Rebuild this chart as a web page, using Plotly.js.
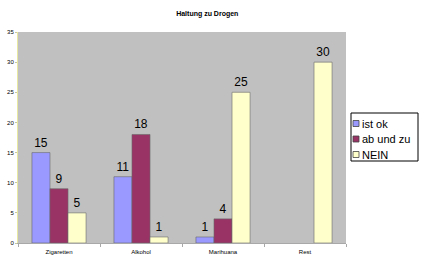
<!DOCTYPE html>
<html><head><meta charset="utf-8">
<script src="https://cdn.plot.ly/plotly-3.0.1.min.js"></script>
<style>html,body{margin:0;padding:0;background:#fff}#c{width:423px;height:263px}</style>
</head><body><div id="c"></div>
<script>
const categories = ["Zigaretten", "Alkohol", "Marihuana", "Rest"];
const seriesNames = ["ist ok", "ab und zu", "NEIN"];
const istOk = [15, 11, 1, null];
const abUndZu = [9, 18, 4, null];
const nein = [5, 1, 25, 30];
const colors = ["#9999ff", "#993366", "#ffffcc"];
const yTicks = [0, 5, 10, 15, 20, 25, 30, 35];

const W = 423, H = 263;
const M = {l: 18, r: 77, t: 32, b: 20};

const values = [istOk, abUndZu, nein];
const traces = values.map((v, i) => ({
  type: "bar",
  name: seriesNames[i],
  x: categories,
  y: v,
  text: v.map(d => d == null ? "" : String(d)),
  textposition: "outside",
  cliponaxis: false,
  textfont: {family: "Liberation Sans, Arial, sans-serif", size: 12, color: "#000"},
  marker: {color: colors[i], line: {color: "#6a6a6a", width: 0.6}},
  showlegend: false
}));

// custom legend box (pixel positions converted to paper coords)
const pw = W - M.l - M.r, ph = H - M.t - M.b;
const px = x => (x - M.l) / pw;
const py = y => (H - M.b - y) / ph;
const shapes = [{
  type: "rect", xref: "paper", yref: "paper",
  x0: px(351), x1: px(418), y0: py(161), y1: py(113),
  fillcolor: "#ffffff", line: {color: "#000", width: 1}
}];
const annotations = [];
seriesNames.forEach((n, i) => {
  const cy = 123.5 + i * 15.5;
  shapes.push({
    type: "rect", xref: "paper", yref: "paper",
    x0: px(353), x1: px(359), y0: py(cy + 3), y1: py(cy - 3),
    fillcolor: colors[i], line: {color: "#444", width: 0.8}
  });
  annotations.push({
    xref: "paper", yref: "paper", x: px(360), y: py(cy),
    xanchor: "left", yanchor: "middle", showarrow: false,
    text: n, font: {size: 11, color: "#000", family: "Liberation Sans, Arial, sans-serif"}
  });
});

const layout = {
  width: W, height: H,
  margin: Object.assign({autoexpand: false}, M),
  paper_bgcolor: "#ffffff",
  plot_bgcolor: "#c0c0c0",
  font: {family: "Liberation Sans, Arial, sans-serif", color: "#000"},
  title: {text: "<b>Haltung zu Drogen</b>", font: {size: 7, color: "#000"}, x: 0.49, xanchor: "center", y: 0.95, yanchor: "middle"},
  barmode: "group",
  bargap: 0.34,
  bargroupgap: 0,
  showlegend: false,
  shapes: shapes,
  annotations: annotations,
  xaxis: {
    type: "category",
    tickfont: {size: 6, color: "#000"},
    showline: true, linecolor: "#a8a8a8", linewidth: 1,
    ticks: "outside", tickson: "boundaries", ticklen: 3, tickcolor: "#a8a8a8",
    ticklabelstandoff: 3,
    showgrid: false, zeroline: false
  },
  yaxis: {
    range: [0, 35],
    tickvals: yTicks,
    tickfont: {size: 6, color: "#000"},
    showline: true, linecolor: "#e8e8a0", linewidth: 1,
    ticks: "outside", ticklen: 2, tickcolor: "#c8c8a0",
    showgrid: false, zeroline: false
  }
};

Plotly.newPlot("c", traces, layout, {displayModeBar: false, staticPlot: true});
</script></body></html>
